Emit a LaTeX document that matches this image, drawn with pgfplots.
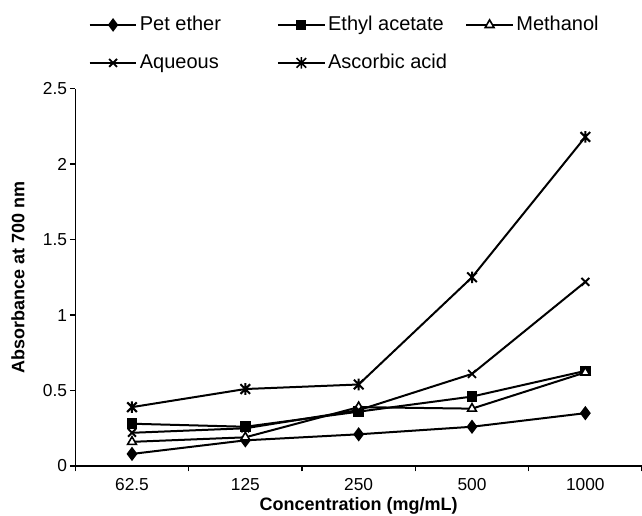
\documentclass[border=0pt]{standalone}
\usepackage{fontspec}
\setmainfont{Liberation Sans}
\usepackage{pgfplots}
\pgfplotsset{compat=1.18}

\pgfdeclareplotmark{xstar}{%
  \pgfpathmoveto{\pgfqpoint{-\pgfplotmarksize}{-\pgfplotmarksize}}%
  \pgfpathlineto{\pgfqpoint{\pgfplotmarksize}{\pgfplotmarksize}}%
  \pgfpathmoveto{\pgfqpoint{-\pgfplotmarksize}{\pgfplotmarksize}}%
  \pgfpathlineto{\pgfqpoint{\pgfplotmarksize}{-\pgfplotmarksize}}%
  \pgfpathmoveto{\pgfqpoint{0pt}{-1.2\pgfplotmarksize}}%
  \pgfpathlineto{\pgfqpoint{0pt}{1.2\pgfplotmarksize}}%
  \pgfusepathqstroke}

\newcommand{\lt}[1]{\makebox[105pt][l]{\hspace{2pt}#1}}

\begin{document}
\begin{tikzpicture}
% page = 642 x 516 px at 0.75pt per px; axis box 567 x 377 px
\useasboundingbox (-56.5pt,-37.5pt) rectangle (425pt,349.5pt);
\begin{axis}[
    scale only axis,
    width=425pt, height=283pt,
    xmin=-0.5, xmax=4.5, ymin=0, ymax=2.5,
    axis lines*=left,
    axis line style={line width=1pt},
    tick align=outside,
    major tick length=4pt,
    tick style={line width=1pt, black},
    xtick={-0.5,0.5,1.5,2.5,3.5,4.5},
    x tick label as interval,
    xticklabels={62.5,125,250,500,1000},
    ytick={0,0.5,1,1.5,2,2.5},
    yticklabels={0,0.5,1,1.5,2,2.5},
    ticklabel style={font=\fontsize{13}{15}\selectfont},
    yticklabel style={inner sep=0pt, xshift=-2pt},
    xticklabel style={inner sep=0pt, yshift=-5pt},
    xlabel={\bfseries Concentration (mg/mL)},
    ylabel={\bfseries Absorbance at 700 nm},
    label style={font=\fontsize{13.5}{15}\selectfont},
    xlabel style={at={(axis description cs:0.5,0)}, anchor=center, yshift=-30pt},
    ylabel style={at={(axis description cs:0,0.5)}, anchor=center, yshift=43pt},
    every axis plot/.append style={black, line width=1.5pt, mark size=3.8pt,
      mark options={solid, line width=1pt}},
    legend columns=3,
    legend style={draw=none, fill=none, at={(axis description cs:0,1)},
      anchor=north west, xshift=7pt, yshift=57pt,
      font=\fontsize{15}{17}\selectfont,
      column sep=0pt, row sep=14.5pt,
      nodes={inner sep=0pt, anchor=west, text height=11pt, text depth=3pt}},
    legend image code/.code={%
      \draw[mark repeat=2, mark phase=2, line width=1.2pt]
        plot coordinates {(0pt,0pt) (17.5pt,0pt) (35pt,0pt)};},
    clip=false,
  ]
  \addplot[mark=diamond*, mark options={fill=black, scale=1.1}]
    coordinates {(0,0.08) (1,0.17) (2,0.21) (3,0.26) (4,0.35)};
  \addlegendentry{\lt{Pet ether}}
  \addplot[mark=square*, mark options={fill=black, scale=0.85}]
    coordinates {(0,0.28) (1,0.26) (2,0.36) (3,0.46) (4,0.63)};
  \addlegendentry{\lt{Ethyl acetate}}
  \addplot[mark=triangle*, mark options={fill=white, line width=1.2pt}]
    coordinates {(0,0.16) (1,0.19) (2,0.39) (3,0.38) (4,0.62)};
  \addlegendentry{\hspace{2pt}Methanol}
  \addplot[mark=x, mark options={line width=1.4pt, scale=1.1}]
    coordinates {(0,0.22) (1,0.25) (2,0.37) (3,0.61) (4,1.22)};
  \addlegendentry{\lt{Aqueous}}
  \addplot[mark=xstar, mark options={scale=0.95}]
    coordinates {(0,0.39) (1,0.51) (2,0.54) (3,1.25) (4,2.18)};
  \addlegendentry{\lt{Ascorbic acid}}
\end{axis}
\end{tikzpicture}
\end{document}
